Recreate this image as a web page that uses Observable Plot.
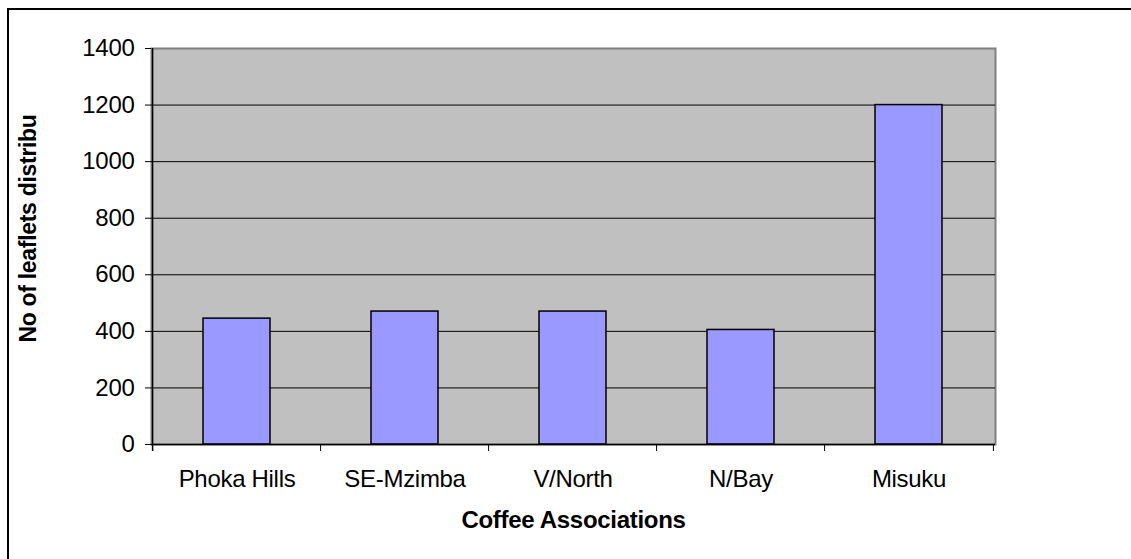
<!DOCTYPE html>
<html>
<head>
<meta charset="utf-8">
<script src="https://cdn.jsdelivr.net/npm/d3@7"></script>
<script src="https://cdn.jsdelivr.net/npm/@observablehq/plot@0.6"></script>
<style>
  html, body { margin: 0; padding: 0; background: #fff; }
  #chart { position: relative; width: 1131px; height: 559px; overflow: hidden; }
  #chart svg { display: block; }
  #border {
    position: absolute; left: 7px; top: 8px; right: -10px; bottom: -10px;
    border-top: 2px solid #000; border-left: 2px solid #000; pointer-events: none;
  }
</style>
</head>
<body>
<div id="chart"><div id="border"></div></div>
<script>
// Leaflets distributed per coffee association
const associations = ["Phoka Hills", "SE-Mzimba", "V/North", "N/Bay", "Misuku"];
const leaflets = [445, 470, 470, 405, 1200];
const yTicks = [0, 200, 400, 600, 800, 1000, 1200, 1400];
const xTitle = "Coffee Associations";
const yTitle = "No of leaflets distribu";

const data = associations.map((name, i) => ({name, value: leaflets[i]}));

const W = 1131, H = 559;
const mL = 151, mR = 136, mT = 48, mB = 115;
const plotH = H - mT - mB;
// width of one category slot (outer padding totals one inner gap, so slots tile the frame)
const step = (W - mL - mR) / associations.length;
const font = "'Liberation Sans', Arial, sans-serif";

const chart = Plot.plot({
  width: W,
  height: H,
  marginLeft: mL,
  marginRight: mR,
  marginTop: mT,
  marginBottom: mB,
  style: {fontFamily: font, fontSize: "24px", background: "transparent", color: "#000", letterSpacing: "-0.3px"},
  x: {domain: associations, paddingInner: 0.6, paddingOuter: 0.3, align: 0.5},
  y: {domain: [0, 1400]},
  marks: [
    Plot.frame({fill: "#C0C0C0", stroke: "#808080", strokeWidth: 2}),
    Plot.gridY(yTicks.filter(v => v > 0 && v < 1400), {stroke: "#000", strokeOpacity: 1, strokeWidth: 1}),
    Plot.barY(data, {x: "name", y: "value", fill: "#9999FF", stroke: "#000", strokeWidth: 1.5}),
    Plot.ruleY([0], {stroke: "#000", strokeWidth: 1.5}),
    // left axis line (extends down as the first category tick)
    Plot.ruleX([associations[0]], {dx: -step / 2, insetBottom: -7, stroke: "#000", strokeWidth: 1.5}),
    // category boundary ticks below the axis
    Plot.ruleX(associations.slice(1), {dx: -step / 2, insetTop: plotH, insetBottom: -7, stroke: "#000", strokeWidth: 1}),
    Plot.ruleX([associations[associations.length - 1]], {dx: step / 2, insetTop: plotH, insetBottom: -7, stroke: "#000", strokeWidth: 1}),
    Plot.axisY({ticks: yTicks, tickFormat: d => String(d), tickSize: 6, tickPadding: 11, fontSize: 24, label: null}),
    Plot.axisX({tickSize: 0, tickPadding: 25, fontSize: 24, label: null}),
    Plot.text([xTitle], {text: d => d, frameAnchor: "bottom", dy: 83, fontSize: 24, fontWeight: "bold"}),
    Plot.text([yTitle], {text: d => d, frameAnchor: "left", textAnchor: "middle", dx: -123, dy: -18, rotate: -90, fontSize: 23, fontWeight: "bold"})
  ]
});

document.getElementById("chart").prepend(chart);
</script>
</body>
</html>
